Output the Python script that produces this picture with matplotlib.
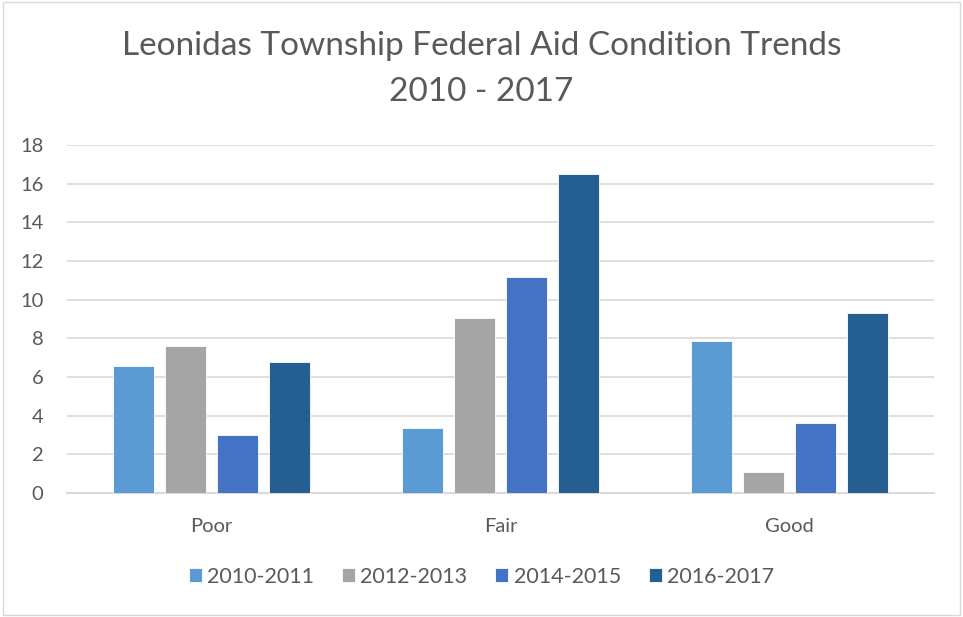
import numpy as np
import matplotlib.pyplot as plt
from matplotlib.patches import Rectangle

categories = ["Poor", "Fair", "Good"]
series_names = ["2010-2011", "2012-2013", "2014-2015", "2016-2017"]
v_2010_2011 = [6.55, 3.35, 7.85]
v_2012_2013 = [7.6, 9.05, 1.1]
v_2014_2015 = [3.0, 11.15, 3.6]
v_2016_2017 = [6.8, 16.5, 9.3]
colors = ["#5b9bd5", "#a5a5a5", "#4472c4", "#255e91"]
y_ticks = [0, 2, 4, 6, 8, 10, 12, 14, 16, 18]

plt.rcParams['font.family'] = ['Lato', 'DejaVu Sans']

fig = plt.figure(figsize=(9.63, 6.17), dpi=100)
ax = fig.add_axes([0.0696, 0.201, 0.9004, 0.564])

x = np.arange(len(categories))
width = 0.142
step = 0.18
all_vals = [v_2010_2011, v_2012_2013, v_2014_2015, v_2016_2017]
for i, (vals, name, c) in enumerate(zip(all_vals, series_names, colors)):
    ax.bar(x + (i - 1.5) * step, vals, width, color=c, label=name, zorder=3,
           edgecolor="white", linewidth=0.6)

ax.set_xlim(-0.5, 2.5)
ax.set_ylim(0, 18)
ax.set_yticks(y_ticks)
ax.set_xticks(x)
ax.set_xticklabels(categories)
ax.grid(axis="y", color="#d9d9d9", linewidth=1.2, zorder=0)
for s in ["top", "right", "left"]:
    ax.spines[s].set_visible(False)
ax.spines["bottom"].set_color("#d9d9d9")
ax.spines["bottom"].set_linewidth(1.5)
ax.tick_params(axis="both", length=0, labelsize=14.5, colors="#595959")
ax.tick_params(axis="y", pad=17)
ax.tick_params(axis="x", pad=18)

fig.text(0.5, 0.925, "Leonidas Township Federal Aid Condition Trends", ha="center",
         va="center", fontsize=24, color="#595959")
fig.text(0.5, 0.851, "2010 - 2017", ha="center", va="center", fontsize=24,
         color="#595959")

fig.legend(loc="center", bbox_to_anchor=(0.5, 0.065), ncol=4, frameon=False,
           fontsize=15.5, labelcolor="#595959", handlelength=0.6, handleheight=0.6,
           handletextpad=0.25, columnspacing=1.3)

fig.patches.append(Rectangle((0.003, 0.003), 0.994, 0.994, transform=fig.transFigure,
                             fill=False, edgecolor="#d9d9d9", linewidth=1))

fig.savefig("out.png", dpi=100)
